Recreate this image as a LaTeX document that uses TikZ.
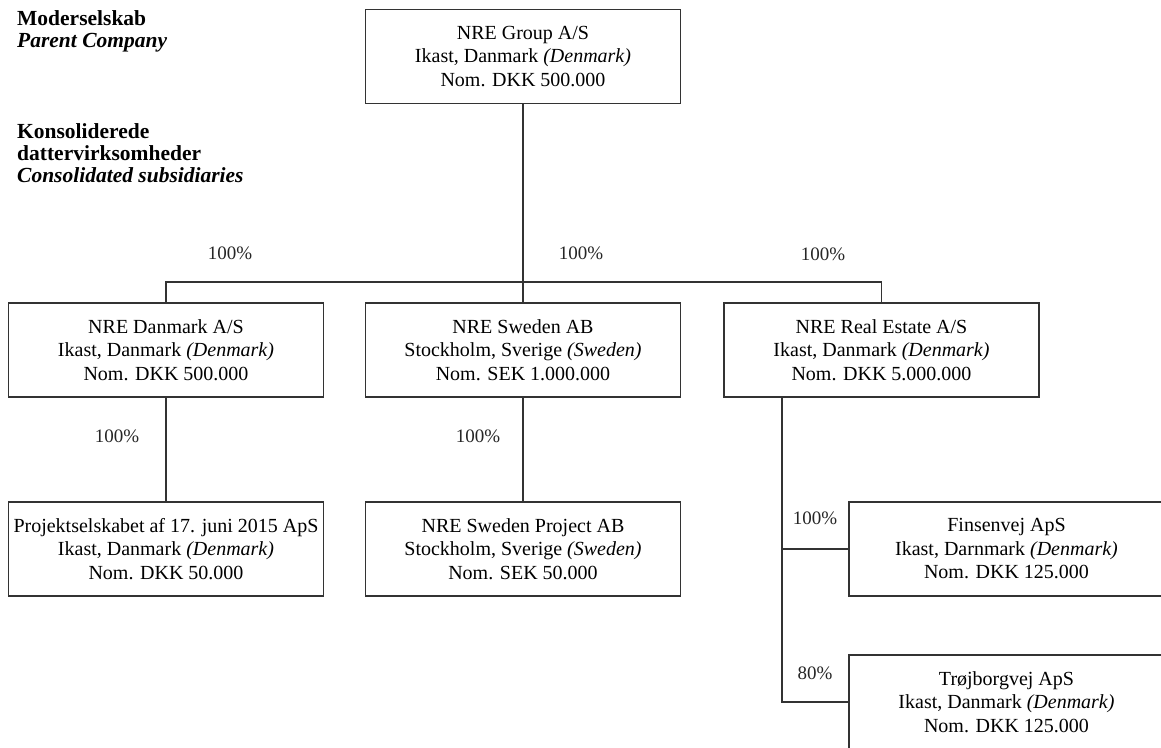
\documentclass[tikz,border=0pt]{standalone}
\usepackage{fontspec}
\setmainfont{Liberation Serif}
\usetikzlibrary{positioning, calc}

\tikzset{
  entity/.style={rectangle, draw=black!80, line width=1.2pt, minimum width=315pt, minimum height=94pt, align=center, inner sep=0pt, font=\fontsize{20}{23.5}\selectfont},
  share/.style={font=\fontsize{19}{21}\selectfont, text=black!85},
  heading/.style={anchor=north west, align=left, inner sep=0pt, font=\fontsize{21.5}{22}\selectfont\bfseries},
  link/.style={draw=black!80, line width=1.2pt}
}

\begin{document}
\begin{tikzpicture}[x=1pt, y=-1pt]
    \useasboundingbox (0,0) rectangle (1161,747);
    \clip (0,0) rectangle (1161,747);

    % headings
    \node[heading] (parenthead) at (17,10.5) {Moderselskab\\\textit{Parent Company}};
    \node[heading] (subshead) at (17,123.5) {Konsoliderede\\dattervirksomheder\\\textit{Consolidated subsidiaries}};

    % parent company
    \node[entity] (group) at (523,56.5) {NRE Group A/S\\Ikast, Danmark \textit{(Denmark)}\\Nom. DKK 500.000};

    % first level
    \node[entity] (dk) at (166,350) {NRE Danmark A/S\\Ikast, Danmark \textit{(Denmark)}\\Nom. DKK 500.000};
    \node[entity] (se) at (523,350) {NRE Sweden AB\\Stockholm, Sverige \textit{(Sweden)}\\Nom. SEK 1.000.000};
    \node[entity] (re) at (881.5,350) {NRE Real Estate A/S\\Ikast, Danmark \textit{(Denmark)}\\Nom. DKK 5.000.000};

    % second level
    \node[entity] (proj) at (166,549) {Projektselskabet af 17. juni 2015 ApS\\Ikast, Danmark \textit{(Denmark)}\\Nom. DKK 50.000};
    \node[entity] (seproj) at (523,549) {NRE Sweden Project AB\\Stockholm, Sverige \textit{(Sweden)}\\Nom. SEK 50.000};
    \node[entity] (fin) at (1006.5,549) {Finsenvej ApS\\Ikast, Darnmark \textit{(Denmark)}\\Nom. DKK 125.000};
    \node[entity] (tro) at (1006.5,702) {Trøjborgvej ApS\\Ikast, Danmark \textit{(Denmark)}\\Nom. DKK 125.000};

    % connections
    \coordinate (bus) at (523,282);
    \draw[link] (group) -- (se);
    \draw[link] (dk.north) |- (bus) -| (re.north);
    \draw[link] (dk) -- (proj);
    \draw[link] (se) -- (seproj);
    \coordinate (spine) at ([xshift=-99.5pt]re.south);
    \draw[link] (spine) |- (tro.west);
    \draw[link] (spine |- fin.west) -- (fin.west);

    % ownership shares
    \node[share] (s1) at (230,253) {100\%};
    \node[share] (s2) at (581,253) {100\%};
    \node[share] (s3) at (823,254) {100\%};
    \node[share] (s4) at (117,436) {100\%};
    \node[share] (s5) at (478,436) {100\%};
    \node[share] (s6) at (815,518) {100\%};
    \node[share] (s7) at (815,673) {80\%};
\end{tikzpicture}
\end{document}
